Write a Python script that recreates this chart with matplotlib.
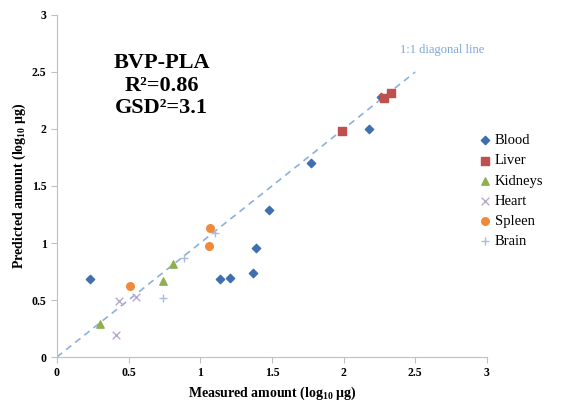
import numpy as np
import matplotlib.pyplot as plt

plt.rcParams['font.family'] = ['Liberation Serif', 'DejaVu Serif']
plt.rcParams['mathtext.fontset'] = 'custom'
plt.rcParams['mathtext.rm'] = 'Liberation Serif'
plt.rcParams['mathtext.bf'] = 'Liberation Serif:bold'

# Measured vs predicted amounts (log10 ug) per tissue
blood_x = [0.23, 1.14, 1.21, 1.37, 1.39, 1.48, 1.77, 2.18, 2.26]
blood_y = [0.68, 0.68, 0.69, 0.74, 0.96, 1.29, 1.70, 2.00, 2.28]
liver_x = [1.99, 2.28, 2.33]
liver_y = [1.98, 2.27, 2.32]
kidneys_x = [0.30, 0.74, 0.81]
kidneys_y = [0.29, 0.67, 0.82]
heart_x = [0.41, 0.43, 0.55]
heart_y = [0.19, 0.49, 0.53]
spleen_x = [0.51, 1.06, 1.07]
spleen_y = [0.62, 0.97, 1.13]
brain_x = [0.74, 0.89, 1.10]
brain_y = [0.52, 0.87, 1.09]

diag = [0, 2.5]
ticks = [0, 0.5, 1, 1.5, 2, 2.5, 3]
tick_labels = ['0', '0.5', '1', '1.5', '2', '2.5', '3']

fig = plt.figure(figsize=(5.81, 4.05), dpi=100)
ax = fig.add_axes([0.098, 0.1185, 0.740, 0.8445])

ax.plot(diag, diag, ls=(0, (4, 3)), color='#8EB0DD', lw=1.2, zorder=1)

ax.scatter(blood_x, blood_y, marker='D', s=18, color='#3F6FAE', label='Blood', zorder=3)
ax.scatter(liver_x, liver_y, marker='s', s=28, color='#C0504D', label='Liver', zorder=3)
ax.scatter(kidneys_x, kidneys_y, marker='^', s=28, color='#8FB050', label='Kidneys', zorder=3)
ax.scatter(heart_x, heart_y, marker='x', s=30, color='#B8A8CC', lw=1.0, label='Heart', zorder=3)
ax.scatter(spleen_x, spleen_y, marker='o', s=30, color='#EE8A3A', label='Spleen', zorder=3)
ax.scatter(brain_x, brain_y, marker='+', s=30, color='#A9BDDA', lw=1.0, label='Brain', zorder=3)

ax.set_xlim(0, 3)
ax.set_ylim(0, 3)
ax.set_xticks(ticks)
ax.set_xticklabels(tick_labels)
ax.set_yticks(ticks)
ax.set_yticklabels(tick_labels)
for s in ['top', 'right']:
    ax.spines[s].set_visible(False)
for s in ['left', 'bottom']:
    ax.spines[s].set_color('#BFBFBF')
ax.tick_params(colors='#BFBFBF', length=4, labelcolor='black', labelsize=8.5)
for lbl in ax.get_xticklabels() + ax.get_yticklabels():
    lbl.set_fontweight('bold')

ax.set_xlabel(r'Measured amount (log$_{\mathbf{10}}$ μg)', fontsize=10, fontweight='bold', labelpad=4)
ax.set_ylabel(r'Predicted amount (log$_{\mathbf{10}}$ μg)', fontsize=10, fontweight='bold', labelpad=3)

ax.text(0.73, 2.58, 'BVP-PLA', ha='center', va='center', fontsize=16, fontweight='bold')
ax.text(0.73, 2.375, 'R²=0.86', ha='center', va='center', fontsize=16, fontweight='bold')
ax.text(0.73, 2.18, 'GSD²=3.1', ha='center', va='center', fontsize=16, fontweight='bold')

ax.text(2.69, 2.69, '1:1 diagonal line', ha='center', va='center', fontsize=9, color='#7FA6D6')

ax.legend(loc='upper left', bbox_to_anchor=(0.812, 0.687), bbox_transform=fig.transFigure,
          frameon=False, fontsize=10.5, handlelength=0.8, handletextpad=0.3,
          labelspacing=0.48, borderpad=0, scatterpoints=1)

fig.savefig('out.png', dpi=100)
